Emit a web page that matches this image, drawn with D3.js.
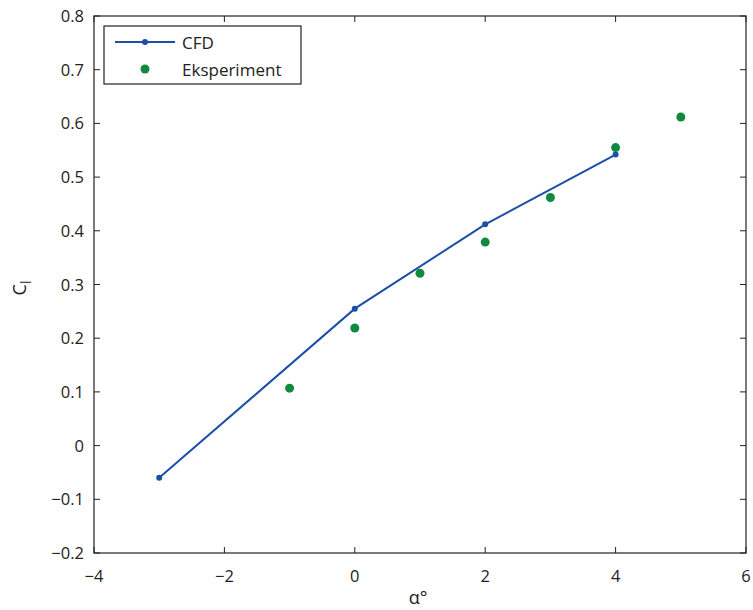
<!DOCTYPE html>
<html><head><meta charset="utf-8">
<script src="https://cdn.jsdelivr.net/npm/d3@7"></script>
<style>body{margin:0;background:#fff;} text{font-family:"Open Sans",sans-serif;fill:#222;}</style>
</head><body>
<svg id="c" width="753" height="610"></svg>
<script>
const cfdX = [-3, 0, 2, 4];
const cfdY = [-0.06, 0.255, 0.412, 0.542];
const expX = [-1, 0, 1, 2, 3, 4, 5];
const expY = [0.107, 0.219, 0.321, 0.379, 0.462, 0.555, 0.612];
const xTicks = [-4, -2, 0, 2, 4, 6];
const yTicks = [-0.2, -0.1, 0, 0.1, 0.2, 0.3, 0.4, 0.5, 0.6, 0.7, 0.8];
const seriesNames = ["CFD", "Eksperiment"];

const svg = d3.select("#c");
const L = 94, R = 746, T = 16, B = 553;
const x = d3.scaleLinear().domain([-4, 6]).range([L, R]);
const y = d3.scaleLinear().domain([-0.2, 0.8]).range([B, T]);
const blue = "#1d4fa6", green = "#118a3f";
const fmt = v => (Math.abs(v) < 1e-9 ? "0" : d3.format(".1f")(v)).replace("-", "\u2212");
const fmtx = v => String(v).replace("-", "\u2212");

const g = svg.append("g");
xTicks.forEach(v => {
  g.append("line").attr("x1", x(v)).attr("x2", x(v)).attr("y1", B).attr("y2", B - 6).attr("stroke", "#222");
  g.append("line").attr("x1", x(v)).attr("x2", x(v)).attr("y1", T).attr("y2", T + 6).attr("stroke", "#222");
  g.append("text").attr("x", x(v)).attr("y", 582).attr("text-anchor", "middle").attr("font-size", 16.5).text(fmtx(v));
});
yTicks.forEach(v => {
  g.append("line").attr("x1", L).attr("x2", L + 6).attr("y1", y(v)).attr("y2", y(v)).attr("stroke", "#222");
  g.append("line").attr("x1", R).attr("x2", R - 6).attr("y1", y(v)).attr("y2", y(v)).attr("stroke", "#222");
  g.append("text").attr("x", 84).attr("y", y(v) + 6).attr("text-anchor", "end").attr("font-size", 16.5).text(fmt(v));
});
svg.append("rect").attr("x", L).attr("y", T).attr("width", R - L).attr("height", B - T)
  .attr("fill", "none").attr("stroke", "#222").attr("stroke-width", 1.2);

const cfd = cfdX.map((v, i) => [v, cfdY[i]]);
svg.append("path").datum(cfd).attr("fill", "none").attr("stroke", blue).attr("stroke-width", 2)
  .attr("d", d3.line().x(d => x(d[0])).y(d => y(d[1])));
svg.selectAll(".cp").data(cfd).enter().append("circle")
  .attr("cx", d => x(d[0])).attr("cy", d => y(d[1])).attr("r", 3).attr("fill", blue);
const ex = expX.map((v, i) => [v, expY[i]]);
svg.selectAll(".ep").data(ex).enter().append("circle")
  .attr("cx", d => x(d[0])).attr("cy", d => y(d[1])).attr("r", 4.5).attr("fill", green);

const lg = svg.append("g");
lg.append("rect").attr("x", 104).attr("y", 26).attr("width", 197).attr("height", 58)
  .attr("fill", "#fff").attr("stroke", "#222").attr("stroke-width", 1.2);
lg.append("line").attr("x1", 115).attr("x2", 175).attr("y1", 42).attr("y2", 42).attr("stroke", blue).attr("stroke-width", 2);
lg.append("circle").attr("cx", 145).attr("cy", 42).attr("r", 3).attr("fill", blue);
lg.append("circle").attr("cx", 145).attr("cy", 69).attr("r", 4.5).attr("fill", green);
lg.append("text").attr("x", 182).attr("y", 49).attr("font-size", 17).text(seriesNames[0]);
lg.append("text").attr("x", 182).attr("y", 76).attr("font-size", 17).text(seriesNames[1]);

svg.append("text").attr("x", 418).attr("y", 604).attr("text-anchor", "middle").attr("font-size", 18).text("\u03b1\u00b0");
const yl = svg.append("text").attr("transform", "translate(26,288) rotate(-90)").attr("text-anchor", "middle").attr("font-size", 18);
yl.append("tspan").text("C");
yl.append("tspan").attr("dy", 5).attr("font-size", 14).text("l");
</script>
</body></html>
